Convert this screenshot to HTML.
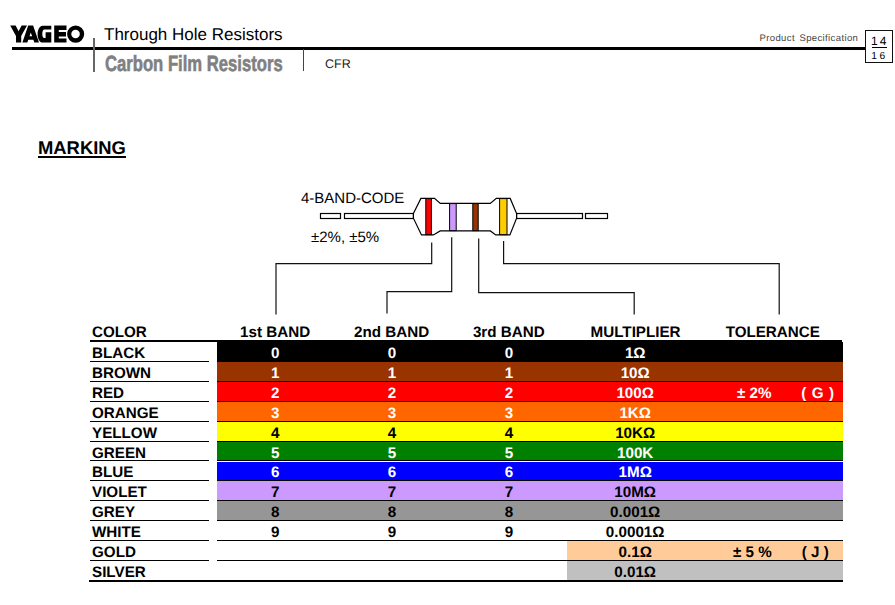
<!DOCTYPE html>
<html><head><meta charset="utf-8">
<style>
html,body{margin:0;padding:0;background:#fff;}
body{width:895px;height:605px;position:relative;overflow:hidden;font-family:"Liberation Sans",sans-serif;color:#000;text-rendering:geometricPrecision;}
.a{position:absolute;white-space:nowrap;}
.b{font-weight:bold;}
.hdr{font-size:15.2px;font-weight:bold;line-height:17px;}
.ln{position:absolute;background:#000;}
.cell{position:absolute;}
.t{position:absolute;font-size:15.2px;font-weight:bold;line-height:20px;text-align:center;white-space:nowrap;}
.c1{left:235.2px;width:80px;}
.c2{left:352px;width:80px;}
.c3{left:469px;width:80px;}
.cm{left:585.2px;width:100px;}
.lab{position:absolute;left:92px;font-size:15.2px;font-weight:bold;line-height:20px;}
</style></head><body>

<!-- page header -->
<svg width="90" height="50" style="position:absolute;left:0;top:0"><g fill="#000" fill-rule="evenodd">
<path d="M10.2,25.6 H15.6 L18.6,31.2 L21.6,25.6 H27 L21.2,36 V42.6 H16 V36 Z"/>
<path d="M28.2,25.6 H33.1 L39,42.6 H34.3 L33.4,39.8 H28.3 L27.3,42.6 H22.4 Z M30.8,32.6 L29.5,36.3 H32.1 Z"/>
<path d="M42.5,25.7 H51.3 V29.6 H44.4 C43,29.6 42.3,31.6 42.3,34 C42.3,36.5 43,37.9 44.4,37.9 H45.6 V32.3 H51.3 V42.6 H42.5 C39.8,42.6 37.6,38.8 37.6,34.15 C37.6,29.5 39.8,25.7 42.5,25.7 Z"/>
<path d="M54.2,25.6 H66.5 V29.9 H58.8 V32.1 H66 V36.4 H58.8 V38.4 H66.5 V42.6 H54.2 Z"/>
<path d="M75.65,25.4 A8.55,8.65 0 1 0 75.65,42.7 A8.55,8.65 0 1 0 75.65,25.4 Z M75.55,29.8 A4.25,4.25 0 1 1 75.55,38.3 A4.25,4.25 0 1 1 75.55,29.8 Z"/>
</g></svg>
<div class="ln" style="left:12px;top:47px;width:853px;height:2.5px;"></div>
<div class="ln" style="left:93px;top:38px;width:1.5px;height:34px;background:#666;"></div>
<div class="ln" style="left:302.5px;top:49px;width:1.5px;height:22px;background:#444;"></div>
<div class="a" style="left:104px;top:25px;font-size:17px;line-height:20px;">Through Hole Resistors</div>
<div class="a b" style="left:104.5px;top:52px;font-size:22px;line-height:24px;color:#808080;-webkit-text-stroke:0.6px #808080;transform:scaleX(0.757);transform-origin:0 0;">Carbon Film Resistors</div>
<div class="a" style="left:325px;top:57px;font-size:12.5px;line-height:14px;color:#222;">CFR</div>
<div class="a" style="left:759.5px;top:32.5px;font-size:9.5px;line-height:11px;letter-spacing:0.38px;word-spacing:1.5px;color:#444;">Product Specification</div>
<div style="position:absolute;left:865px;top:30px;width:25.5px;height:31px;border:1.2px solid #111;"></div>
<div class="a" style="left:871px;top:34px;font-size:12px;line-height:14px;letter-spacing:2.2px;">14</div>
<div class="ln" style="left:872px;top:47px;width:15px;height:1px;"></div>
<div class="a" style="left:871.3px;top:51.3px;font-size:10.2px;line-height:12px;letter-spacing:2.6px;">16</div>
<!-- MARKING -->
<div class="a b" style="left:38px;top:136.9px;font-size:18.4px;line-height:21px;">MARKING</div>
<div class="ln" style="left:38px;top:156px;width:88px;height:2px;"></div>

<!-- resistor diagram -->
<div class="a" style="left:301px;top:189.6px;font-size:15px;line-height:17px;">4-BAND-CODE</div>
<div class="a" style="left:311px;top:228.7px;font-size:15px;line-height:17px;">±2%, ±5%</div>

<svg width="895" height="605" style="position:absolute;left:0;top:0">
 <g fill="#fff" stroke="#000" stroke-width="1.2">
  <rect x="320.5" y="213.5" width="20" height="5"/>
  <rect x="344.5" y="213.5" width="69" height="5"/>
  <rect x="516.5" y="213.5" width="66" height="5"/>
  <rect x="585.5" y="213.5" width="22" height="5"/>
  <path d="M413.4,213.4 L420.9,198.4 L434.5,198.4 L440.3,203.4 L490.3,203.4 L496.3,198.4 L510.2,198.4 L516.6,213.6 L516.6,218.2 L509.9,234.9 L495.7,234.9 L490.4,230.9 L440.2,230.9 L433.4,234.9 L421.5,234.9 L413.4,218.2 Z" />
 </g>
 <g stroke="#000" stroke-width="1">
  <rect x="425.8" y="198.6" width="5.6" height="36" fill="#ff0000"/>
  <rect x="449.6" y="203.6" width="6.6" height="27" fill="#cc99ff"/>
  <rect x="472.8" y="203.6" width="5.4" height="27" fill="#993300"/>
  <rect x="499.6" y="198.6" width="7.4" height="36" fill="#ffcc00"/>
 </g>
 <g fill="none" stroke="#111" stroke-width="1.2">
  <path d="M431.7,242.5 V263.6 H276 V314.5"/>
  <path d="M451.7,237.3 V291.6 H387 V313.6"/>
  <path d="M478.7,238.5 V292.6 H634.2 V314.5"/>
  <path d="M503.6,241 V263.6 H779.2 V314.5"/>
 </g>
</svg>

<!-- table header -->
<div class="a hdr" style="left:92px;top:323.8px;">COLOR</div>
<div class="a hdr" style="left:215.15px;width:120px;text-align:center;top:323.8px;">1st BAND</div>
<div class="a hdr" style="left:331.60px;width:120px;text-align:center;top:323.8px;">2nd BAND</div>
<div class="a hdr" style="left:448.75px;width:120px;text-align:center;top:323.8px;">3rd BAND</div>
<div class="a hdr" style="left:575.60px;width:120px;text-align:center;top:323.8px;">MULTIPLIER</div>
<div class="a hdr" style="left:712.75px;width:120px;text-align:center;top:323.8px;">TOLERANCE</div>
<div class="ln" style="left:90px;top:340px;width:752px;height:2px;"></div>

<div id="rows"></div>
<div class="cell" style="left:217px;top:342px;width:626px;height:19px;background:#000000;"></div>
<div class="lab" style="top:343.5px;">BLACK</div>
<div class="t c1" style="top:343.5px;color:#fff;">0</div>
<div class="t c2" style="top:343.5px;color:#fff;">0</div>
<div class="t c3" style="top:343.5px;color:#fff;">0</div>
<div class="t cm" style="top:343.5px;color:#fff;">1Ω</div>
<div class="cell" style="left:217px;top:362px;width:626px;height:19px;background:#993300;"></div>
<div class="lab" style="top:363.5px;">BROWN</div>
<div class="t c1" style="top:363.5px;color:#fff;">1</div>
<div class="t c2" style="top:363.5px;color:#fff;">1</div>
<div class="t c3" style="top:363.5px;color:#fff;">1</div>
<div class="t cm" style="top:363.5px;color:#fff;">10Ω</div>
<div class="cell" style="left:217px;top:382px;width:626px;height:19px;background:#ff0000;"></div>
<div class="lab" style="top:383.5px;">RED</div>
<div class="t c1" style="top:383.5px;color:#fff;">2</div>
<div class="t c2" style="top:383.5px;color:#fff;">2</div>
<div class="t c3" style="top:383.5px;color:#fff;">2</div>
<div class="t cm" style="top:383.5px;color:#fff;">100Ω</div>
<div class="t" style="left:737px;top:383.5px;color:#fff;">± 2%</div>
<div class="t" style="left:801.2px;top:383.5px;color:#fff;word-spacing:1.2px;">( G )</div>
<div class="cell" style="left:217px;top:402px;width:626px;height:19px;background:#ff6600;"></div>
<div class="lab" style="top:403.5px;">ORANGE</div>
<div class="t c1" style="top:403.5px;color:#fff;">3</div>
<div class="t c2" style="top:403.5px;color:#fff;">3</div>
<div class="t c3" style="top:403.5px;color:#fff;">3</div>
<div class="t cm" style="top:403.5px;color:#fff;">1KΩ</div>
<div class="cell" style="left:217px;top:422px;width:626px;height:19px;background:#ffff00;"></div>
<div class="lab" style="top:423.5px;">YELLOW</div>
<div class="t c1" style="top:423.5px;color:#000;">4</div>
<div class="t c2" style="top:423.5px;color:#000;">4</div>
<div class="t c3" style="top:423.5px;color:#000;">4</div>
<div class="t cm" style="top:423.5px;color:#000;">10KΩ</div>
<div class="cell" style="left:217px;top:442px;width:626px;height:18px;background:#008000;"></div>
<div class="lab" style="top:443.5px;">GREEN</div>
<div class="t c1" style="top:443.5px;color:#fff;">5</div>
<div class="t c2" style="top:443.5px;color:#fff;">5</div>
<div class="t c3" style="top:443.5px;color:#fff;">5</div>
<div class="t cm" style="top:443.5px;color:#fff;">100K</div>
<div class="cell" style="left:217px;top:462px;width:626px;height:18px;background:#0000ff;"></div>
<div class="lab" style="top:462.5px;">BLUE</div>
<div class="t c1" style="top:462.5px;color:#fff;">6</div>
<div class="t c2" style="top:462.5px;color:#fff;">6</div>
<div class="t c3" style="top:462.5px;color:#fff;">6</div>
<div class="t cm" style="top:462.5px;color:#fff;">1MΩ</div>
<div class="cell" style="left:217px;top:481px;width:626px;height:19px;background:#cc99ff;"></div>
<div class="lab" style="top:482.5px;">VIOLET</div>
<div class="t c1" style="top:482.5px;color:#000;">7</div>
<div class="t c2" style="top:482.5px;color:#000;">7</div>
<div class="t c3" style="top:482.5px;color:#000;">7</div>
<div class="t cm" style="top:482.5px;color:#000;">10MΩ</div>
<div class="cell" style="left:217px;top:501px;width:626px;height:19px;background:#969696;"></div>
<div class="lab" style="top:502.5px;">GREY</div>
<div class="t c1" style="top:502.5px;color:#000;">8</div>
<div class="t c2" style="top:502.5px;color:#000;">8</div>
<div class="t c3" style="top:502.5px;color:#000;">8</div>
<div class="t cm" style="top:502.5px;color:#000;">0.001Ω</div>
<div class="lab" style="top:522.5px;">WHITE</div>
<div class="t c1" style="top:522.5px;color:#000;">9</div>
<div class="t c2" style="top:522.5px;color:#000;">9</div>
<div class="t c3" style="top:522.5px;color:#000;">9</div>
<div class="t cm" style="top:522.5px;color:#000;">0.0001Ω</div>
<div class="cell" style="left:567px;top:541px;width:276px;height:19px;background:#ffcc99;"></div>
<div class="lab" style="top:542.5px;">GOLD</div>
<div class="t cm" style="top:542.5px;color:#000;">0.1Ω</div>
<div class="t" style="left:733px;top:542.5px;color:#000;">± 5 %</div>
<div class="t" style="left:801.8px;top:542.5px;color:#000;word-spacing:0px;">( J )</div>
<div class="cell" style="left:567px;top:561px;width:276px;height:19px;background:#c0c0c0;"></div>
<div class="lab" style="top:562.5px;">SILVER</div>
<div class="t cm" style="top:562.5px;color:#000;">0.01Ω</div>
<div class="ln" style="left:90px;top:361px;width:119px;height:1px;"></div>
<div class="ln" style="left:217px;top:361px;width:626px;height:1px;"></div>
<div class="ln" style="left:90px;top:381px;width:119px;height:1px;"></div>
<div class="ln" style="left:217px;top:381px;width:626px;height:1px;"></div>
<div class="ln" style="left:90px;top:401px;width:119px;height:1px;"></div>
<div class="ln" style="left:217px;top:401px;width:626px;height:1px;"></div>
<div class="ln" style="left:90px;top:421px;width:119px;height:1px;"></div>
<div class="ln" style="left:217px;top:421px;width:626px;height:1px;"></div>
<div class="ln" style="left:90px;top:441px;width:119px;height:1px;"></div>
<div class="ln" style="left:217px;top:441px;width:626px;height:1px;"></div>
<div class="ln" style="left:90px;top:460px;width:119px;height:1px;"></div>
<div class="ln" style="left:217px;top:460px;width:626px;height:1px;"></div>
<div class="ln" style="left:90px;top:480px;width:119px;height:1px;"></div>
<div class="ln" style="left:217px;top:480px;width:626px;height:1px;"></div>
<div class="ln" style="left:90px;top:500px;width:119px;height:1px;"></div>
<div class="ln" style="left:217px;top:500px;width:626px;height:1px;"></div>
<div class="ln" style="left:90px;top:520px;width:119px;height:1px;"></div>
<div class="ln" style="left:217px;top:520px;width:626px;height:1px;"></div>
<div class="ln" style="left:90px;top:540px;width:119px;height:1px;"></div>
<div class="ln" style="left:217px;top:540px;width:626px;height:1px;"></div>
<div class="ln" style="left:90px;top:560px;width:119px;height:1px;"></div>
<div class="ln" style="left:217px;top:560px;width:626px;height:1px;"></div>
<div class="ln" style="left:89px;top:580px;width:754px;height:2px;"></div>
</body></html>
